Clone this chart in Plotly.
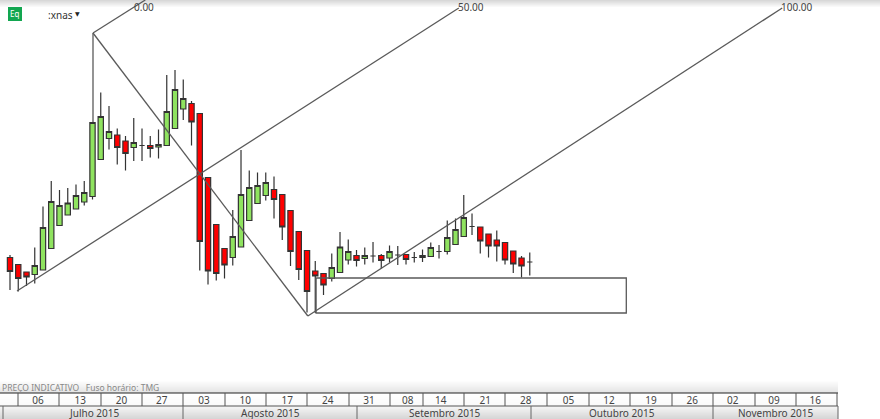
import plotly.graph_objects as go

# Prices (arbitrary chart units); one entry per trading day
open_ = [161.5,154.5,147,144.5,149,170.5,193.5,204,210,217,222.5,259.5,280.5,284,278,271.5,273.5,273.5,272,273.5,
         290.5,310,315.5,305.5,241.5,194.5,170.5,161.5,172,198.5,215.5,223.5,229.5,224.5,208.5,187.5,168.5,148,145.5,140.5,
         146.5,159,163.5,160.5,163,163.5,161,164,164.5,161.5,161.5,162.5,167.5,167.5,174.5,182.5,192.5,192,185,179,
         176.5,168,161,157]
high = [164,155,147,171.5,212.5,238,229,231,234.5,238,296.5,326.5,313,290.5,283,301,290.5,283,289.5,344,
        349,339.5,318,305.5,241.5,194.5,170.5,209,269,248.5,246.5,246.5,242.5,224.5,208.5,187.5,168.5,158,145.5,165.5,
        187,179.5,169,171.5,177,165,173.5,173,165,167,169.5,176.5,174,198.5,200.5,224,205.5,192,185,188.5,
        176.5,168,163,166.5]
low = [129,127.5,133,135.5,149,170.5,193.5,204,210,213.5,219.5,259.5,269.5,254.5,248.5,258,258,261.5,260.5,273.5,
       290.5,299,273.5,148.5,134.5,138.5,140.5,153.5,172,198.5,215.5,218.5,200.5,179,153,139,106.5,106,124,137.5,
       146.5,154.5,152.5,154.5,156.5,150.5,156.5,154,154.5,156.5,157,162.5,160.5,164.5,174.5,182.5,184,165.5,161.5,157.5,
       154.5,146,141.5,143.5]
close = [147.5,140.5,142,153.5,191.5,217.5,213.5,216,223.5,226.5,296.5,302.5,287.5,271.5,265.5,276.5,273.5,270.5,274.5,307.5,
         329.5,320.5,297,177.5,148,145.5,154,182.5,224.5,231.5,233.5,236.5,219.5,192,167.5,149.5,127.5,143,134,151.5,
         172,167.5,158.5,163.5,163,158.5,167.5,164,159.5,161.5,163.5,171.5,167.5,181.5,189.5,201.5,192.5,178,173,173,
         159,155,153,157]
days = list(range(len(open_)))

# Drawing tools anchored on bar index and price
fan_0_x, fan_0_y = [10.06, 16.4], [386, 419]
handle_x, handle_y = [10.06, 10.06], [386, 297]
spine_x, spine_y = [10.06, 36.1], [386, 103]
fan_50_x, fan_50_y = [0.85, 54.4], [128, 411]
fan_100_x, fan_100_y = [36.1, 93.6], [103, 411]
box_x, box_y = [37.1, 74.7, 74.7, 37.1, 37.1], [141, 141, 106, 106, 141]
fan_labels = ["0.00", "50.00", "100.00"]
fan_label_x = [16.3, 55.9, 95.4]
fan_label_y = [412, 412, 412]

week_labels = ["06","13","20","27","03","10","17","24","31","08","14","21","28","05","12","19","26","02","09","16"]
week_pos = [3.4,8.5,13.5,18.4,23.5,28.5,33.6,38.5,43.5,48.2,52.2,57.6,62.5,67.7,72.6,77.7,82.7,87.6,92.6,97.6]
week_edges = [18,59,101,142,183,225,266,307,349,390,423,464,505,547,589,630,672,713,755,796,837]
month_labels = ["Julho 2015","Agosto 2015","Setembro 2015","Outubro 2015","Novembro 2015"]
month_pos = [94,270,445,622,775]
month_edges = [3,183,357,531,713,838]

W, H, PLOT_H = 880, 419, 393
GREEN, RED, LINE = "#8fe35f", "#ff0000", "#5a5a5a"
FONT = "Noto Sans"


def py(p):
    return (PLOT_H - p) / PLOT_H


fig = go.Figure()
for xs, ys in [(fan_50_x, fan_50_y), (fan_100_x, fan_100_y), (fan_0_x, fan_0_y), (handle_x, handle_y), (spine_x, spine_y), (box_x, box_y)]:
    fig.add_trace(go.Scatter(x=xs, y=ys, mode="lines", line=dict(color=LINE, width=1.3), hoverinfo="skip", showlegend=False))

fig.add_trace(go.Candlestick(
    x=days, open=open_, high=high, low=low, close=close, whiskerwidth=0,
    increasing=dict(fillcolor=GREEN, line=dict(color="#333333", width=1.2)),
    decreasing=dict(fillcolor=RED, line=dict(color="#333333", width=1.2)),
    showlegend=False,
))

shapes = []


def band(y0, y1, c0, c1, x1=838 / W):
    n = y1 - y0
    for i in range(n):
        t = i / max(n - 1, 1)
        col = "rgb(%d,%d,%d)" % tuple(round(a + (b - a) * t) for a, b in zip(c0, c1))
        shapes.append(dict(type="rect", xref="paper", yref="paper", x0=0, x1=x1, y0=py(y0 + i), y1=py(y0 + i + 1),
                           fillcolor=col, line=dict(width=0), layer="below"))


band(0, 8, (216, 216, 216), (255, 255, 255), x1=1)
band(380, 393, (255, 255, 255), (228, 228, 228))
band(393, 406, (255, 255, 255), (250, 250, 250))
band(406, 419, (246, 246, 246), (214, 214, 214))


def hline(y, c="#222222"):
    shapes.append(dict(type="line", xref="paper", yref="paper", x0=0, x1=838 / W, y0=py(y), y1=py(y), line=dict(color=c, width=1)))


hline(393)
hline(406, "#555555")
for e in week_edges:
    shapes.append(dict(type="line", xref="paper", yref="paper", x0=e / W, x1=e / W, y0=py(393), y1=py(406), line=dict(color="#555555", width=1)))
for e in month_edges:
    shapes.append(dict(type="line", xref="paper", yref="paper", x0=e / W, x1=e / W, y0=py(406), y1=py(419), line=dict(color="#666666", width=1)))
shapes.append(dict(type="rect", xref="paper", yref="paper", x0=8 / W, x1=22 / W, y0=py(7), y1=py(21), fillcolor="#12a650", line=dict(width=0)))

ann = []
for t, x, y in zip(fan_labels, fan_label_x, fan_label_y):
    ann.append(dict(text=t, x=x, y=y, xref="x", yref="y", xanchor="center", yanchor="middle", showarrow=False, font=dict(family=FONT, size=10, color="#444444")))
for t, x in zip(month_labels, month_pos):
    ann.append(dict(text=t, x=x / W, y=py(412.5), xref="paper", yref="paper", xanchor="center", yanchor="middle", showarrow=False, font=dict(family=FONT, size=10, color="#444444")))
ann.append(dict(text="PREÇO INDICATIVO   Fuso horário: TMG", x=0, y=py(387), xref="paper", yref="paper", xanchor="left", yanchor="middle", showarrow=False,
                font=dict(family=FONT, size=8.5, color="#888888")))
ann.append(dict(text="Eq", x=15 / W, y=py(14), xref="paper", yref="paper", xanchor="center", yanchor="middle", showarrow=False, font=dict(family=FONT, size=8, color="#ffffff")))
ann.append(dict(text=":xnas", x=46 / W, y=py(15), xref="paper", yref="paper", xanchor="left", yanchor="middle", showarrow=False, font=dict(family=FONT, size=10, color="#333333")))
ann.append(dict(text="▼", x=77 / W, y=py(14), xref="paper", yref="paper", xanchor="center", yanchor="middle", showarrow=False, font=dict(family="DejaVu Sans", size=6, color="#222222")))

fig.update_layout(
    width=W, height=H, margin=dict(l=0, r=0, t=0, b=H - PLOT_H), paper_bgcolor="#ffffff", plot_bgcolor="rgba(0,0,0,0)",
    shapes=shapes, annotations=ann, showlegend=False, boxgap=0.36, boxgroupgap=0,
    xaxis=dict(range=[-1.212, 105.45], rangeslider=dict(visible=False), showgrid=False, zeroline=False, showline=False,
               tickmode="array", tickvals=week_pos, ticktext=week_labels, ticks="", tickfont=dict(family=FONT, size=10, color="#444444")),
    yaxis=dict(range=[26, 419], visible=False, showgrid=False, zeroline=False),
)
fig.write_html("out.html", config=dict(displayModeBar=False),
               post_script="document.body.style.margin='0';document.body.style.overflow='hidden';")
